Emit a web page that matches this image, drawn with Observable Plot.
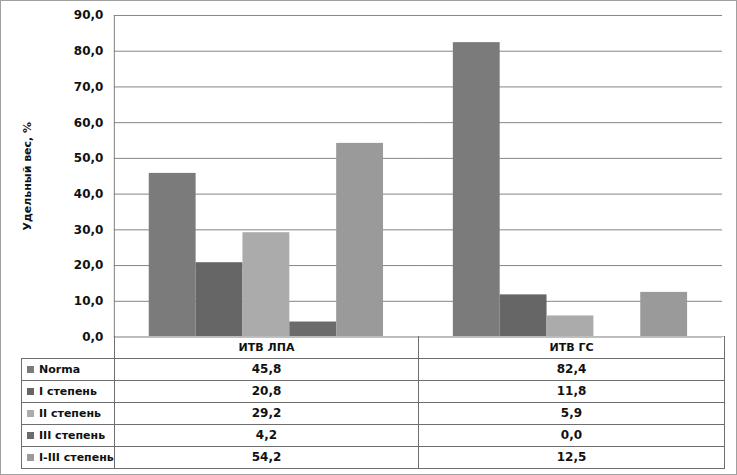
<!DOCTYPE html>
<html><head><meta charset="utf-8">
<script src="https://cdn.jsdelivr.net/npm/d3@7"></script>
<script src="https://cdn.jsdelivr.net/npm/@observablehq/plot@0.6"></script>
<style>
html,body{margin:0;padding:0;background:#fff;}
#wrap{position:relative;width:735px;height:473px;border:1px solid #a0a0a0;box-sizing:content-box;overflow:hidden;font-family:"DejaVu Sans",sans-serif;font-weight:bold;font-size:12px;color:#111;}
#chart{position:absolute;left:-1px;top:-1px;}
#tbl{position:absolute;left:20px;top:335px;border-collapse:collapse;table-layout:fixed;}
#tbl td{height:21px;padding:0;border:1px solid #6e6e6e;text-align:center;font-size:12px;line-height:21px;}
#tbl td.lab{text-align:left;padding-left:5px;white-space:nowrap;font-size:11px;}
#tbl tr.head td{border-top:1px solid #bbb;font-size:11px;}
#tbl tr.head td.empty{border-left:none;border-top:none;}
.sw{display:inline-block;width:7px;height:7px;margin-right:5px;vertical-align:0px;}
</style></head>
<body><div id="wrap"><div id="chart"></div><table id="tbl"></table></div>
<script>
const categories = ["ИТВ ЛПА", "ИТВ ГС"];
const series = ["Norma", "I степень", "II степень", "III степень", "I-III степень"];
const valuesLPA = [45.8, 20.8, 29.2, 4.2, 54.2];
const valuesGS = [82.4, 11.8, 5.9, 0.0, 12.5];
const colors = ["#7b7b7b", "#666666", "#ababab", "#6b6b6b", "#9a9a9a"];
const yTicks = [0, 10, 20, 30, 40, 50, 60, 70, 80, 90];
const yLabel = "Удельный вес, %";

const fmt = d => d.toFixed(1).replace(".", ",");
const valueRows = [valuesLPA, valuesGS];
const data = [];
categories.forEach((c, ci) => series.forEach((s, si) => data.push({category: c, series: s, value: valueRows[ci][si]})));

const font = {fontFamily: "DejaVu Sans, sans-serif", fontSize: "12px", fontWeight: "bold", color: "#111"};
const chart = Plot.plot({
  width: 737, height: 346,
  marginTop: 15, marginBottom: 9, marginLeft: 114, marginRight: 14,
  style: font,
  fx: {domain: categories, padding: 0, axis: null, round: false},
  x: {domain: series, paddingInner: 0, paddingOuter: 0.745, axis: null, round: false},
  y: {domain: [0, 90], ticks: yTicks, tickFormat: fmt, tickSize: 0, tickPadding: 11,
      label: yLabel, labelAnchor: "center", labelOffset: 91, labelArrow: "none"},
  color: {domain: series, range: colors},
  marks: [
    Plot.gridY(yTicks, {stroke: "#858585", strokeOpacity: 1}),
    Plot.barY(data, {fx: "category", x: "series", y: "value", fill: "series"}),
    Plot.frame({anchor: "left", facet: "super", stroke: "#808080"})
  ]
});
chart.querySelectorAll("g[aria-label='y-axis label'] text").forEach(t => t.style.fontSize = "11px");
document.getElementById("chart").appendChild(chart);

const tbl = document.getElementById("tbl");
const widths = [93, 304, 306];
let html = "<colgroup>" + widths.map(w => `<col style="width:${w}px">`).join("") + "</colgroup>";
html += `<tr class="head"><td class="empty"></td>${categories.map(c => `<td>${c}</td>`).join("")}</tr>`;
series.forEach((s, si) => {
  html += `<tr><td class="lab"><span class="sw" style="background:${colors[si]}"></span>${s}</td>` +
    valueRows.map(r => `<td>${fmt(r[si])}</td>`).join("") + "</tr>";
});
tbl.innerHTML = html;
</script></body></html>
